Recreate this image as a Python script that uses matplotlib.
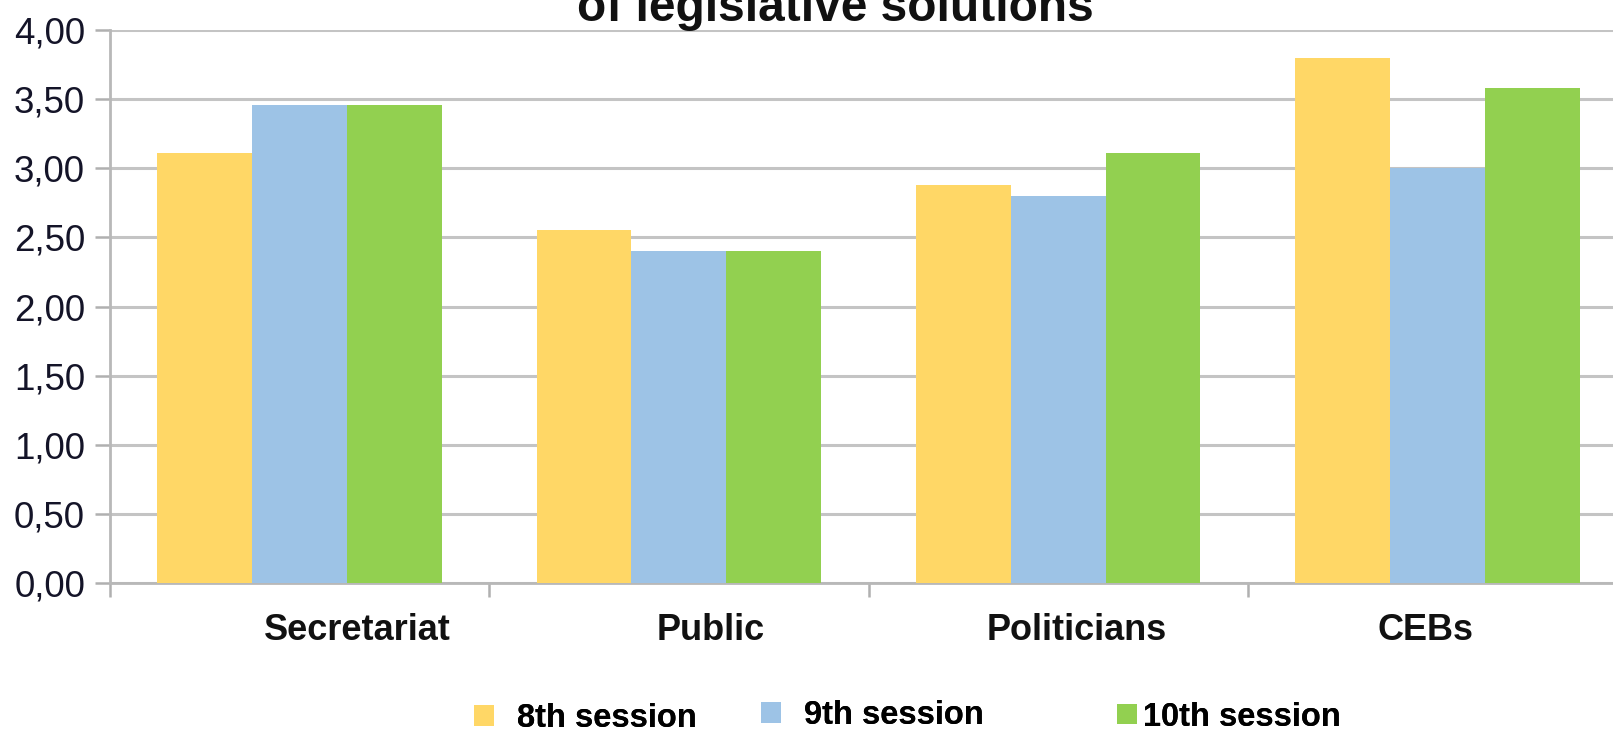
import numpy as np
import matplotlib
matplotlib.use("Agg")
import matplotlib.pyplot as plt
from matplotlib.patches import Patch

plt.rcParams["font.family"] = ["Liberation Sans", "DejaVu Sans"]

# data
categories = ["Secretariat", "Public", "Politicians", "CEBs"]
series = ["8th session", "9th session", "10th session"]
session_8 = [3.11, 2.55, 2.88, 3.80]
session_9 = [3.46, 2.40, 2.80, 3.00]
session_10 = [3.46, 2.40, 3.11, 3.58]
yticks = [0.0, 0.5, 1.0, 1.5, 2.0, 2.5, 3.0, 3.5, 4.0]
title = "of legislative solutions"

colors = ["#FFD766", "#9DC3E6", "#92D050"]
label_offsets = [0.152, 0.083, 0.049, -0.031]  # labels sit off-centre in the source
legend_anchor = [(0.294, 0.021), (0.472, 0.025), (0.6926, 0.023)]
legend_textpad = [0.7, 0.7, 0.2]


def main():
    fig = plt.figure(figsize=(16.13, 7.34), dpi=100)
    ax = fig.add_axes([0.0682, 0.2057, 0.9405, 0.7534])

    x = np.arange(len(categories))
    w = 0.25
    for k, (vals, name) in enumerate(zip([session_8, session_9, session_10], series)):
        ax.bar(x + (k - 1) * w, vals, width=w, color=colors[k], label=name,
               linewidth=0, zorder=3)

    ax.set_xlim(-0.5, len(categories) - 0.5)
    ax.set_ylim(0, 4.0)
    ax.set_yticks(yticks)
    ax.set_yticklabels([f"{v:.2f}".replace(".", ",") for v in yticks],
                       fontsize=26.5, color="#141428")
    ax.yaxis.grid(True, color="#c4c4c4", linewidth=2.2, zorder=0)
    ax.set_axisbelow(True)

    # ticks at category boundaries, no tick labels (labels placed as text)
    ax.set_xticks(np.arange(len(categories) + 1) - 0.5)
    ax.set_xticklabels([])
    ax.tick_params(axis="x", length=10, width=1.8, color="#b0b0b0", direction="out")
    ax.tick_params(axis="y", length=11, width=1.8, color="#b0b0b0", pad=7)

    for s in ["top", "right"]:
        ax.spines[s].set_visible(False)
    for s in ["left", "bottom"]:
        ax.spines[s].set_color("#b8b8b8")
        ax.spines[s].set_linewidth(2.0)

    for i, cat in enumerate(categories):
        ax.text(i + label_offsets[i], -0.086, cat, transform=ax.get_xaxis_transform(),
                ha="center", va="center", fontsize=26, fontweight="bold", color="#111111")

    # legend entries are unevenly spaced in the source, so one legend per entry
    for c, name, anchor, pad in zip(colors, series, legend_anchor, legend_textpad):
        leg = fig.legend([Patch(facecolor=c, edgecolor="none")], [name],
                         loc="center left", bbox_to_anchor=anchor, frameon=False,
                         prop={"weight": "bold", "size": 23.5},
                         handlelength=0.6, handleheight=0.6, handletextpad=pad,
                         borderpad=0, borderaxespad=0)
        fig.add_artist(leg)

    fig.text(0.518, 0.972, title, ha="center", va="baseline",
             fontsize=34.5, fontweight="bold", color="#111111")

    fig.savefig("out.png", dpi=100)


if __name__ == "__main__":
    main()
